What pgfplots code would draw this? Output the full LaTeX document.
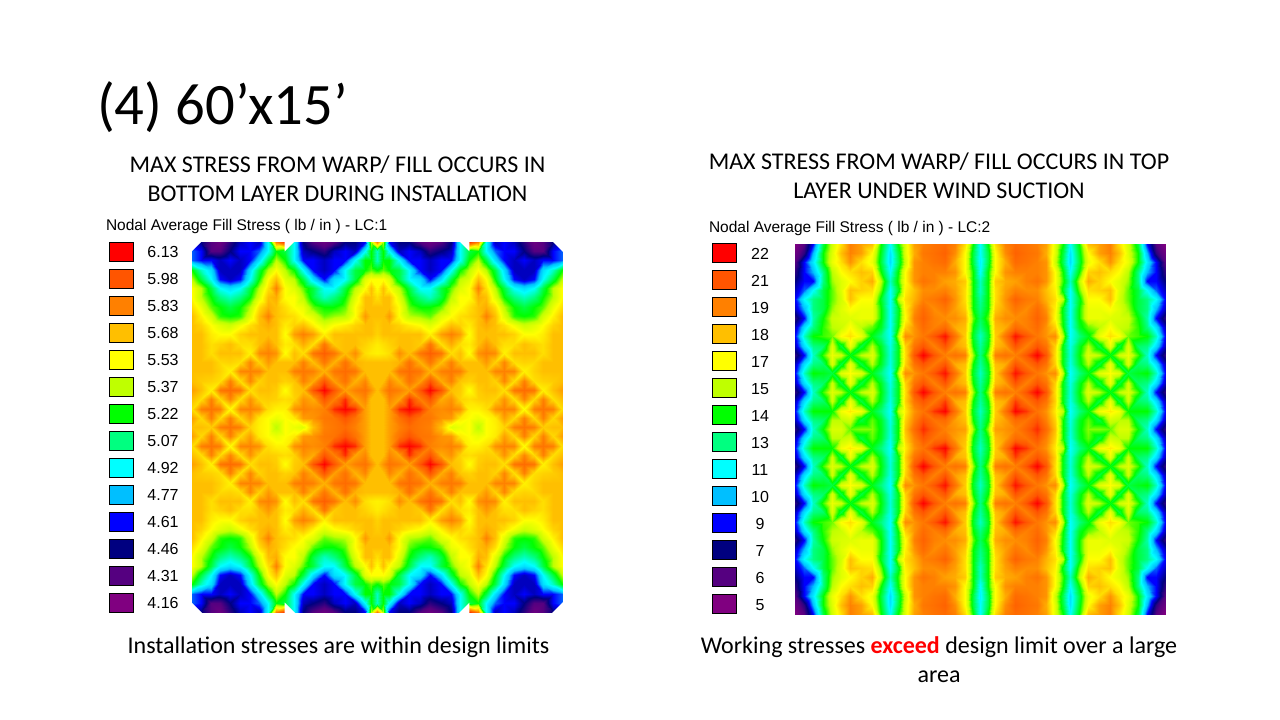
\documentclass[border=0pt]{standalone}
\usepackage{pgfplots}
\usepackage{pgfplotstable}
\usepackage{fontspec}
\pgfplotsset{compat=1.18}
\setmainfont{Carlito}
\newfontfamily\arial{Liberation Sans}
\definecolor{c0}{RGB}{128,0,128}\definecolor{c1}{RGB}{85,0,128}\definecolor{c2}{RGB}{0,0,128}
\definecolor{c3}{RGB}{0,0,255}\definecolor{c4}{RGB}{0,191,255}\definecolor{c5}{RGB}{0,255,255}
\definecolor{c6}{RGB}{0,255,128}\definecolor{c7}{RGB}{0,255,0}\definecolor{c8}{RGB}{191,255,0}
\definecolor{c9}{RGB}{255,255,0}\definecolor{c10}{RGB}{255,191,0}\definecolor{c11}{RGB}{255,128,0}
\definecolor{c12}{RGB}{255,85,0}\definecolor{c13}{RGB}{255,0,0}
\pgfplotsset{colormap={stress}{rgb255=(128,0,128) rgb255=(85,0,128) rgb255=(0,0,128) rgb255=(0,0,255)
 rgb255=(0,191,255) rgb255=(0,255,255) rgb255=(0,255,128) rgb255=(0,255,0) rgb255=(191,255,0)
 rgb255=(255,255,0) rgb255=(255,191,0) rgb255=(255,128,0) rgb255=(255,85,0) rgb255=(255,0,0)}}
% Stress in legend steps (0 = lowest swatch, 13 = highest).
% One quadrant of each symmetric panel: rows top to centre, columns left to centre.
\pgfplotstableread[header=false]{
3 2 1 0.5 1.5 2.5 3 2.5 5 11 12.5 5 2 1 0.5 1 2 2 3 8 11
3.5 3 1 1 2 3 3 3.5 5 7 6.5 5 2.5 2 1.5 2.5 3 2.5 5 7 5.5
3.5 3 3 2.5 3 2.5 3 4.5 6.5 8 7 5 3 3 2.5 3 3 5 7 7 5.5
7 5.5 4.5 2.5 2.5 2.5 4.5 6.5 8 9 8 7 5 3 2.5 3 5 6.5 7 7.5 7
8 6.5 5 3 2.5 3 5 7 9 10 8.5 8 6.5 4.5 3 4.5 5 6.5 8.5 9 9
9 8 6.5 5 4.5 5 6.5 8 9.5 11 9 8.5 7.5 6.5 5 5 6.5 8 9 10 9
9 8 7 6 5.5 6 7 8.5 10 10.3 9 9 8 6.5 5.5 6 7 8.5 10 10 9.5
9.5 8.7 7.5 7 6.5 7 8 9.5 10.3 10 9.5 9 8.7 7.5 7 7 7.5 9 10 10 10
10 9.2 8.3 7.2 7 7.2 8.5 10 11 10 9.7 9.5 9 8.5 7.5 7.8 8 9 10.6 10 10
10 9.7 9 8.5 8.2 8.8 9.5 10 10.3 10 9.3 9.7 10 9.2 8.5 9 9.3 9.7 10 10 9.8
10 10 9.3 9 9 9.7 10 10 10 10 9 10.5 11 10.5 9.2 10 10 10 10 10 9.7
10 10 9.5 9.7 10 9.5 9.5 10 10.6 10 9.3 9.5 10.3 9.5 11.2 9.8 10 10 9.7 9.5 9.3
10 10 9.5 10 10 10 9.2 10.8 11 10.7 9 10 9.5 11.2 11.8 11.2 10 10.8 9.5 9.3 9.2
10 10 10 9.6 9.7 9.5 10.9 9.7 10.6 10 10 10 11 10 11.2 10.2 11.3 10.2 10 10 10
10 10 10 9.7 9.2 10.9 11 10.9 10 10 10 11 11.2 11 10.2 11.2 11.5 11.2 10 10 10
10 9.8 9.7 9.5 11 9.5 10.9 9.7 10 10 9.7 9.9 11 10.3 12 10.5 11.3 10.2 10.9 10 10
10.5 10 9.2 11.2 11.5 11.2 9.5 10 10 9.8 9 9.8 10 12 13 12 10.5 11 11.3 10.7 10
10 9.5 11 9.6 10.9 9.5 10.7 9.7 9.8 9.7 9.5 9.7 10.7 10.3 12 11 12.5 10.4 10.9 10 10
9.5 11 11.3 11 9 10.9 11 10.7 9.5 9.2 9.2 10.7 11 10.8 11 12.5 13 12.5 10.5 10 10
10.5 9.6 11 9.6 11 9.6 10.5 9.3 9 8.7 9 9.3 10.6 10.7 11.2 11.3 12 11.3 10.5 10 10
10 10 9.8 11 11.3 11 9.7 9.2 9 8 9 8.7 8.5 10 11 11.2 11.5 11 10.5 10 10
}\gridL
\pgfplotstableread[header=false]{
0 1 3 6.5 8.3 9.5 11 10.5 10 7 5 7 8.5 10.5 11 11.3 11.5 11 9.5 7 5
0.5 1.5 4 7 8.5 10 11 10.5 9 6.7 4.6 6.5 8.5 10.3 11.2 11.4 11.7 10.8 9 6.5 5
1 3 4.7 7 8.7 9.5 10.7 9.5 8.7 6.5 4.5 6.3 8.2 10.7 11 11.3 11.5 10.3 9 6.5 4.8
1.5 3 4 6 8 9 9.5 10 9.7 7 5 7 9 10.7 11 11 11 10.7 9 7 5
2 3 3 6 7.8 8.5 9 9.7 10.3 8 5.5 7.2 9 10.7 11.3 11 10.5 10.3 9.8 7 5.5
2.5 3.5 5 6.5 7.5 8.5 10 9.7 9.5 7.5 5 6.7 9.2 10 10.8 10.8 11 10.5 9.5 7 5.5
3 5 6 6.5 7.5 8.3 10 9 9 6.7 5 8 9.5 10.2 11 11.2 11.7 10.7 9.5 7 5.8
2.5 4 6 6.5 7.8 8.5 9 8.7 8.7 7 5 6.7 9.2 10.7 11.5 10.8 11.2 10.5 9.8 7 6
1.5 3 5.7 7 8.2 8.4 8.5 8.7 8.7 7 5 6.8 9 11 11.7 11 10.8 10.8 10.3 7.5 6.3
2.5 4.5 6 7.2 8 8.2 9 8 7.5 6.7 5 7 9.7 10.7 11.5 11 11.5 10.3 10 7 6
3 5.5 7 7.3 7.6 9 9.5 8.7 6.8 6 5 8 10.8 10.7 11.2 12 12.8 11.3 9.8 6.7 5.5
2.5 4.5 6 6.2 8.4 6.5 8.7 6.5 8 6.7 5.2 6.8 9.7 11.3 12 11 12 10.5 10 7 5.8
1.5 3 5.5 7.3 8.7 8.2 6.8 8 8.5 6.9 5.3 6.8 9.5 12 13 12 11 11.3 11 7.8 6
2.5 4.5 6 6.2 8.4 6.5 8.7 6.5 8 6.7 5.2 6.8 9.7 11.3 12 11.2 12 10.3 10 7 5.8
3 5.5 7 6.8 6.5 8.5 9 8.5 6.8 6 5 8 10.8 10.7 11.2 12 12.8 11.3 9.8 6.7 5.5
2.5 4.5 6 6.2 8.2 6.5 8.7 6.5 8 6.7 5.2 6.8 9.7 11.3 12 11 12 10.5 10 7 5.8
1.5 3 5.5 7.3 8.5 8 6.8 8 8.5 6.9 5.3 6.8 9.5 12 13 12 11 11.3 11 7.8 6
2.5 4.5 6 6.2 8.2 6.5 8.7 6.5 8 6.7 5.2 6.8 9.7 11.3 12 11.2 12.3 10.3 10 7 5.8
3 5.5 7 7 7 8.8 9.3 8.8 6.8 6 5 8 9.3 10.7 11.3 12.4 13 11.3 9.8 6.7 5.5
2.5 4.5 6 6.2 8 8 8.3 6.5 7.5 6.7 5.2 7 9.7 11 12 11.3 11.5 10.5 10 7 5.8
1.5 3 5.5 7 8.4 8.4 7.5 7.7 7.7 6.8 5.3 7 10 11.5 12.5 11.7 11 10.7 10.5 7.8 6
}\gridR
\def\V#1#2{(\csname X#1\endcsname,\csname Y#2\endcsname) [\csname Z#2-#1\endcsname] }
% #1 table, #2 node x list, #3 node y list, #4 result macro
\newcommand{\buildmesh}[4]{%
  \foreach \t [count=\n from 0] in {#2}{\expandafter\xdef\csname X\n\endcsname{\t}}%
  \foreach \t [count=\n from 0] in {#3}{\expandafter\xdef\csname Y\n\endcsname{\t}}%
  \foreach \r in {0,...,20}{\foreach \c in {0,...,20}{%
    \pgfplotstablegetelem{\r}{[index]\c}\of{#1}%
    \edef\mr{\the\numexpr40-\r\relax}\edef\mc{\the\numexpr40-\c\relax}%
    \expandafter\xdef\csname Z\r-\c\endcsname{\pgfplotsretval}%
    \expandafter\xdef\csname Z\r-\mc\endcsname{\pgfplotsretval}%
    \expandafter\xdef\csname Z\mr-\c\endcsname{\pgfplotsretval}%
    \expandafter\xdef\csname Z\mr-\mc\endcsname{\pgfplotsretval}}}%
  \gdef#4{}%
  \foreach \r in {0,...,39}{\gdef\rowpts{}\foreach \c in {0,...,39}{%
    \edef\cn{\the\numexpr\c+1\relax}\edef\rn{\the\numexpr\r+1\relax}%
    \pgfmathsetmacro\dval{\csname Z\r-\c\endcsname+\csname Z\rn-\cn\endcsname-\csname Z\r-\cn\endcsname-\csname Z\rn-\c\endcsname}%
    \ifdim\dval pt<-0.001pt \def\spl{0}\else\ifdim\dval pt>0.001pt \def\spl{1}\else
      \ifodd\numexpr\r+\c\relax\def\spl{0}\else\def\spl{1}\fi\fi\fi
    \ifnum\spl=0
      \xdef\rowpts{\rowpts\V{\c}{\r}\V{\cn}{\r}\V{\cn}{\rn}\V{\c}{\r}\V{\c}{\rn}\V{\cn}{\rn}}%
    \else
      \xdef\rowpts{\rowpts\V{\c}{\r}\V{\cn}{\r}\V{\c}{\rn}\V{\cn}{\r}\V{\c}{\rn}\V{\cn}{\rn}}%
    \fi}%
    \xdef#4{\unexpanded\expandafter{#4}\unexpanded\expandafter{\rowpts}}}%
}
\newcommand{\swatch}[3]{% colour, x left, y centre
  \pgfmathsetmacro\xa{#2}\pgfmathsetmacro\xb{#2+24}\pgfmathsetmacro\ya{#3-9.5}\pgfmathsetmacro\yb{#3+9.5}%
  \edef\tmp{\noexpand\addplot[draw=black,line width=0.8pt,fill=#1] coordinates {(\xa,\ya)(\xb,\ya)(\xb,\yb)(\xa,\yb)} -- cycle;}\tmp}
\newcommand{\notch}[6]{\addplot[fill=white,draw=none] coordinates {(#1,#2)(#3,#4)(#5,#6)} -- cycle;}
\begin{document}
\buildmesh{\gridL}{192,201.3,210.7,220.2,229.7,239.7,249.7,258.8,268,276.3,284.7,293.8,303,313.3,323.7,334.2,344.7,354.7,364.7,370.8,377,383.2,389.3,399.3,409.3,419.8,430.3,440.7,451,460.2,469.3,477.7,486,495.2,504.3,514.3,524.3,533.8,543.3,552.7,562}
 {242,251.25,260.5,269.75,279,288.25,297.5,306.75,316,325.25,334.5,343.75,353,362.25,371.5,380.75,390,399.25,408.5,417.75,427,436.25,445.5,454.75,464,473.25,482.5,491.75,501,510.25,519.5,528.75,538,547.25,556.5,565.75,575,584.25,593.5,602.75,612}{\meshL}%
\buildmesh{\gridR}{795,804.2,813.3,822.5,831.7,840.8,850,860.8,871.7,880.8,890,897.5,905,914.2,923.3,934.2,945,955,965,972.5,980,987.5,995,1005,1015,1025.8,1036.7,1045.8,1055,1062.5,1070,1079.2,1088.3,1099.2,1110,1119.2,1128.3,1137.5,1146.7,1155.8,1165}
 {244,253.25,262.5,271.75,281,290.25,299.5,308.75,318,327.25,336.5,345.75,355,364.25,373.5,382.75,392,401.25,410.5,419.75,429,438.25,447.5,456.75,466,475.25,484.5,493.75,503,512.25,521.5,530.75,540,549.25,558.5,567.75,577,586.25,595.5,604.75,614}{\meshR}%
\begin{tikzpicture}[every node/.style={inner sep=0pt,outer sep=0pt}]
\path[use as bounding box] (0pt,0pt) rectangle (1280pt,720pt);
\begin{axis}[at={(100pt,100pt)},anchor=south west,scale only axis,width=470pt,height=384pt,
  xmin=100,xmax=570,ymin=236,ymax=620,y dir=reverse,hide axis,colormap name=stress,
  point meta min=0,point meta max=13]
\edef\doplot{\noexpand\addplot[patch,shader=interp,point meta=explicit] coordinates {\meshL};}\doplot
% white cut corners and notches of the mesh outline (drawn 1.5 units past the edge)
\notch{190.5}{240.5}{202.5}{240.5}{190.5}{252.5}\notch{563.5}{240.5}{551.5}{240.5}{563.5}{252.5}
\notch{190.5}{613.5}{202.5}{613.5}{190.5}{601.5}\notch{563.5}{613.5}{551.5}{613.5}{563.5}{601.5}
\notch{284.7}{240.5}{295.5}{240.5}{284.7}{251.3}\notch{469.3}{240.5}{458.5}{240.5}{469.3}{251.3}
\notch{284.7}{613.5}{295.5}{613.5}{284.7}{602.7}\notch{469.3}{613.5}{458.5}{613.5}{469.3}{602.7}
\swatch{c13}{109}{251.5}\swatch{c12}{109}{278.5}\swatch{c11}{109}{305.5}\swatch{c10}{109}{332.5}
\swatch{c9}{109}{359.5}\swatch{c8}{109}{386.5}\swatch{c7}{109}{413.5}\swatch{c6}{109}{440.5}
\swatch{c5}{109}{467.5}\swatch{c4}{109}{494.5}\swatch{c3}{109}{521.5}\swatch{c2}{109}{548.5}
\swatch{c1}{109}{575.5}\swatch{c0}{109}{602.5}
\end{axis}
\begin{axis}[at={(700pt,100pt)},anchor=south west,scale only axis,width=470pt,height=384pt,
  xmin=700,xmax=1170,ymin=236,ymax=620,y dir=reverse,hide axis,colormap name=stress,
  point meta min=0,point meta max=13]
\edef\doplot{\noexpand\addplot[patch,shader=interp,point meta=explicit] coordinates {\meshR};}\doplot
\swatch{c13}{712}{253}\swatch{c12}{712}{280}\swatch{c11}{712}{307}\swatch{c10}{712}{334}
\swatch{c9}{712}{361}\swatch{c8}{712}{388}\swatch{c7}{712}{415}\swatch{c6}{712}{442}
\swatch{c5}{712}{469}\swatch{c4}{712}{496}\swatch{c3}{712}{523}\swatch{c2}{712}{550}
\swatch{c1}{712}{577}\swatch{c0}{712}{604}
\end{axis}
% texts (pt = slide pixels, y measured from the bottom)
\node[anchor=base west] at (97pt,720pt-125pt) {\fontsize{58.7pt}{60pt}\selectfont (4) 60’x15’};
\def\hd{\fontsize{24pt}{26pt}\selectfont}
\node[anchor=base] at (337.5pt,720pt-173pt) {\hd MAX STRESS FROM WARP/ FILL OCCURS IN};
\node[anchor=base] at (337.5pt,720pt-202pt) {\hd BOTTOM LAYER DURING INSTALLATION};
\node[anchor=base] at (939pt,720pt-170pt) {\hd MAX STRESS FROM WARP/ FILL OCCURS IN TOP};
\node[anchor=base] at (939pt,720pt-199pt) {\hd LAYER UNDER WIND SUCTION};
\node[anchor=base] at (338.5pt,720pt-654pt) {\hd Installation stresses are within design limits};
\node[anchor=base] at (939pt,720pt-654pt) {\hd Working stresses \textcolor{red}{\textbf{exceed}} design limit over a large};
\node[anchor=base] at (939pt,720pt-683pt) {\hd area};
\def\ar{\arial\fontsize{16pt}{18pt}\selectfont}
\node[anchor=base west] at (106pt,720pt-231pt) {\arial\fontsize{15.5pt}{18pt}\selectfont Nodal Average Fill Stress ( lb / in ) - LC:1};
\node[anchor=base west] at (709pt,720pt-233pt) {\arial\fontsize{15.5pt}{18pt}\selectfont Nodal Average Fill Stress ( lb / in ) - LC:2};
\foreach \t [count=\i from 0] in {6.13,5.98,5.83,5.68,5.53,5.37,5.22,5.07,4.92,4.77,4.61,4.46,4.31,4.16}
  \node[anchor=base] at (163pt,720pt-258pt-27pt*\i) {\ar \t};
\foreach \t [count=\i from 0] in {22,21,19,18,17,15,14,13,11,10,9,7,6,5}
  \node[anchor=base] at (760pt,720pt-260pt-27pt*\i) {\ar \t};
\end{tikzpicture}
\end{document}
